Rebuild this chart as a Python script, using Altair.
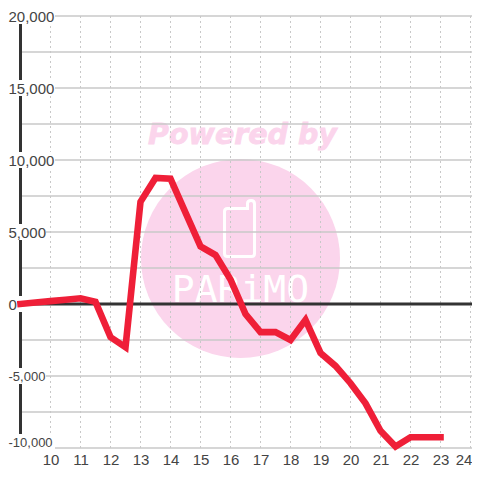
import altair as alt
import pandas as pd

hours = [9, 9.5, 10, 10.5, 11, 11.5, 12, 12.5, 13, 13.5, 14, 14.5, 15, 15.5, 16, 16.5,
         17, 17.5, 18, 18.5, 19, 19.5, 20, 20.5, 21, 21.5, 22, 22.5, 23]
values = [0, 100, 200, 300, 400, 150, -2300, -3000, 7100, 8750, 8700, 6350, 4000, 3400,
          1700, -700, -1950, -1950, -2500, -1100, -3400, -4300, -5500, -6900, -8800,
          -9900, -9250, -9250, -9250]
x_ticks = list(range(10, 25))
y_labelled = [-10000, -5000, 0, 5000, 10000, 15000, 20000]
y_grid = [-10000, -7500, -5000, -2500, 0, 2500, 5000, 7500, 10000, 12500, 15000, 17500, 20000]

W, H = 464, 432
XMIN, XMAX = 8.5833, 24.05
PX_X = 30.0
PX_Y = 14.4
TEXT = "#444444"
GRID = "#c8c8c8"
DARK = "#333333"
PINK = "#fbd5ec"
RED = "#ef1f38"

xs = alt.Scale(domain=[XMIN, XMAX], nice=False, zero=False)
ys = alt.Scale(domain=[-10000, 20000], nice=False, zero=False)
one = pd.DataFrame({"a": [0]})

x_axis = alt.Axis(
    values=x_ticks, format="d", ticks=False, domain=False, grid=False, labelPadding=4,
    labelFont="Liberation Sans", labelFontSize=15, labelColor=TEXT, labelFlush=False,
    labelOverlap=False, zindex=1, labelAngle=0, title=None,
    labelOffset=alt.expr("datum.value == 24 ? -7 : 0"),
)
y_axis = alt.Axis(
    values=y_labelled, orient="left", labelAlign="left", labelPadding=0,
    ticks=False, domain=False, grid=False, labelBound=False, labelFlush=False,
    labelOverlap=False, zindex=1, labelFont="Liberation Sans", labelColor=TEXT,
    labelFontSize=alt.expr("datum.value < 0 ? 13 : 15"), labelBaseline="middle",
    labelOffset=alt.expr("datum.value == -10000 ? -6 : 0"),
    labelExpr="replace(format(datum.value, ','), '\u2212', '-')", title=None,
)


def phone_path(r):
    L, R, T, A, B = -15.5, 14.5, -21.5, -29.5, 26.5
    p = [("M", L + 3, T), ("L", R - 7, T), ("L", R - 7, A + 3), ("Q", R - 7, A, R - 3.5, A),
         ("Q", R, A, R, A + 3.5), ("L", R, B - 3), ("Q", R, B, R - 3, B), ("L", L + 3, B),
         ("Q", L, B, L, B - 3), ("L", L, T + 3), ("Q", L, T, L + 3, T)]
    out = []
    for seg in p:
        out.append(seg[0] + " ".join(f"{v / r:.4f}" for v in seg[1:]))
    return "".join(out) + "Z"


circle = alt.Chart(one).mark_point(
    shape="circle", filled=True, fill=PINK, opacity=1, size=39601, strokeWidth=0
).encode(x=alt.value(232.5), y=alt.value(242.5))

phone = alt.Chart(one).mark_point(
    shape=phone_path(40), filled=False, stroke="white", strokeWidth=3, opacity=1, size=6400
).encode(x=alt.value(232), y=alt.value(214))

brand = alt.Chart(one).mark_text(
    text="PARiMO", font="DejaVu Sans Mono", fontSize=38, color="white",
    align="center", baseline="alphabetic"
).encode(x=alt.value(232.5), y=alt.value(286))

powered = alt.Chart(one).mark_text(
    text="Powered by", font="DejaVu Sans", fontSize=28.5, fontWeight="bold", fontStyle="italic",
    color=PINK, stroke=PINK, strokeWidth=0.8, align="center", baseline="alphabetic"
).encode(x=alt.value(234.5), y=alt.value(128))

hgrid = alt.Chart(pd.DataFrame({"v": y_grid, "x0": 9, "x1": XMAX})).mark_rule(
    color=GRID, strokeWidth=1.3
).encode(
    x=alt.X("x0:Q", scale=xs, axis=x_axis),
    x2="x1:Q",
    y=alt.Y("v:Q", scale=ys, axis=y_axis),
)

vgrid = alt.Chart(pd.DataFrame({"h": x_ticks, "y0": -10000, "y1": 20000})).mark_rule(
    color=GRID, strokeWidth=1, strokeDash=[2, 3]
).encode(
    x=alt.X("h:Q", scale=xs, axis=x_axis),
    y=alt.Y("y0:Q", scale=ys, axis=y_axis),
    y2="y1:Q",
)

axis_line = alt.Chart(pd.DataFrame({"h": [9], "y0": [-10000], "y1": [20000]})).mark_rule(
    color=DARK, strokeWidth=3
).encode(
    x=alt.X("h:Q", scale=xs, axis=x_axis),
    y=alt.Y("y0:Q", scale=ys, axis=y_axis),
    y2="y1:Q",
)

zero = alt.Chart(pd.DataFrame({"v": [0], "x0": [9], "x1": [XMAX]})).mark_rule(
    color=DARK, strokeWidth=3
).encode(
    x=alt.X("x0:Q", scale=xs, axis=x_axis),
    x2="x1:Q",
    y=alt.Y("v:Q", scale=ys, axis=y_axis),
)

mask = alt.Chart(pd.DataFrame({"v": y_labelled})).transform_calculate(
    px="datum.v == 0 ? 14 : 9 * length(format(abs(datum.v), ',')) - 7",
    shift="datum.v == -10000 ? 6 : 0",
    x0=f"{XMIN}",
    x1=f"{XMIN} + datum.px / {PX_X}",
    y0=f"datum.v + (datum.shift - 8) / {PX_Y} * 1000",
    y1=f"datum.v + (datum.shift + 8) / {PX_Y} * 1000",
).mark_rect(color="white", opacity=1, clip=False).encode(
    x=alt.X("x0:Q", scale=xs, axis=x_axis),
    x2="x1:Q",
    y=alt.Y("y0:Q", scale=ys, axis=y_axis),
    y2="y1:Q",
)

line = alt.Chart(pd.DataFrame({"h": hours, "v": values})).mark_line(
    color=RED, strokeWidth=6.6, strokeCap="square", strokeJoin="miter", clip=False
).encode(
    x=alt.X("h:Q", scale=xs, axis=x_axis),
    y=alt.Y("v:Q", scale=ys, axis=y_axis),
)

chart = alt.layer(circle, phone, brand, powered, hgrid, vgrid, axis_line, mask, zero, line).properties(
    width=W, height=H,
    autosize=alt.AutoSizeParams(type="none"),
    padding={"left": 0, "top": 8, "right": 0, "bottom": 24},
    background="white",
).configure_view(stroke=None)

chart.save("out.html", embed_options={"renderer": "svg", "actions": False})
